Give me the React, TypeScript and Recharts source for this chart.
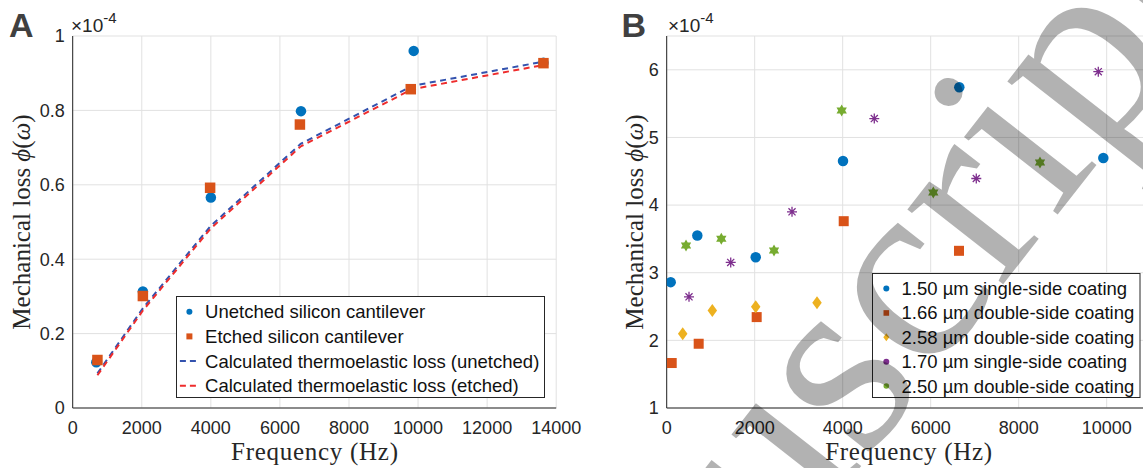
import React from 'react';
import { ComposedChart, Scatter, Line, XAxis, YAxis, CartesianGrid } from 'recharts';

const COLORS = {
  blue: '#0072BD',
  red: '#D95319',
  yellow: '#EDB120',
  purple: '#7E2F8E',
  green: '#77AC30',
  calcBlue: '#3352AE',
  calcRed: '#EE2C2C',
  axis: '#262626',
  grid: '#e1e1e1',
};

// Panel A: silicon cantilevers (loss in units of 1e-4)
const freqUnetched = [684, 2032, 4000, 6610, 9874, 13630];
const lossUnetched = [0.123, 0.313, 0.566, 0.798, 0.96, 0.928];
const freqEtched = [716, 2032, 3979, 6579, 9789, 13631];
const lossEtched = [0.129, 0.301, 0.592, 0.762, 0.857, 0.927];
const freqCalc = [716, 2032, 3990, 6600, 9830, 13630];
const calcUnetched = [0.093, 0.268, 0.489, 0.71, 0.866, 0.931];
const calcEtched = [0.088, 0.262, 0.482, 0.703, 0.857, 0.922];
const ticksAX = [0, 2000, 4000, 6000, 8000, 10000, 12000, 14000];
const ticksAY = [0, 0.2, 0.4, 0.6, 0.8, 1];

// Panel B: coated cantilevers (loss in units of 1e-4)
const freq150 = [91, 696, 2023, 4007, 6650, 9923];
const loss150 = [2.861, 3.551, 3.23, 4.653, 5.742, 4.697];
const freq166 = [114, 727, 2045, 4023, 6643];
const loss166 = [1.665, 1.95, 2.344, 3.762, 3.324];
const freq258 = [364, 1037, 2023, 3416];
const loss258 = [2.098, 2.443, 2.496, 2.555];
const freq170 = [507, 1455, 2848, 4718, 7036, 9809];
const loss170 = [2.644, 3.152, 3.9, 5.279, 4.393, 5.973];
const freq250 = [439, 1241, 2439, 3977, 6059, 8484];
const loss250 = [3.403, 3.501, 3.329, 5.397, 4.186, 4.629];
const ticksBX = [0, 2000, 4000, 6000, 8000, 10000];
const ticksBY = [1, 2, 3, 4, 5, 6];

const legendA = [
  'Unetched silicon cantilever',
  'Etched silicon cantilever',
  'Calculated thermoelastic loss (unetched)',
  'Calculated thermoelastic loss (etched)',
];
const legendB = [
  '1.50 µm single-side coating',
  '1.66 µm double-side coating',
  '2.58 µm double-side coating',
  '1.70 µm single-side coating',
  '2.50 µm double-side coating',
];

const pts = (xs: number[], ys: number[]) => xs.map((x, i) => ({ x, y: ys[i] }));

// marker shapes
const dot = (d: number, color: string) => (p: any) => <circle cx={p.cx} cy={p.cy} r={d / 2} fill={color} />;
const square = (s: number, color: string) => (p: any) => (
  <rect x={p.cx - s / 2} y={p.cy - s / 2} width={s} height={s} fill={color} />
);
const diamond = (w: number, h: number, color: string) => (p: any) => (
  <polygon
    points={`${p.cx},${p.cy - h / 2} ${p.cx + w / 2},${p.cy} ${p.cx},${p.cy + h / 2} ${p.cx - w / 2},${p.cy}`}
    fill={color}
  />
);
const asterisk = (s: number, color: string, sw = 1.3) => (p: any) => {
  const r = s / 2;
  const k = r * 0.7071;
  const { cx, cy } = p;
  return (
    <path
      d={`M${cx - r},${cy}h${2 * r}M${cx},${cy - r}v${2 * r}M${cx - k},${cy - k}l${2 * k},${2 * k}M${cx - k},${cy + k}l${2 * k},${-2 * k}`}
      stroke={color}
      strokeWidth={sw}
      fill="none"
    />
  );
};
const hexagram = (r: number, color: string) => (p: any) => {
  const out: string[] = [];
  for (let i = 0; i < 12; i++) {
    const a = -Math.PI / 2 + (i * Math.PI) / 6;
    const rr = i % 2 === 0 ? r : r * 0.577;
    out.push(`${p.cx + rr * Math.cos(a)},${p.cy + rr * Math.sin(a)}`);
  }
  return <polygon points={out.join(' ')} fill={color} />;
};

const serif = "'Liberation Serif', 'Times New Roman', serif";
const sans = "'Liberation Sans', Arial, sans-serif";
const tickStyle = { fill: COLORS.axis, fontSize: 18, fontFamily: sans };
const inTick = { stroke: COLORS.axis };

// MATLAB-style box: inward ticks on all four sides
const boxAxes = (xDomain: number[], xTicks: number[], yDomain: number[], yTicks: number[]) => [
  <XAxis key="bt" xAxisId="bt" orientation="bottom" type="number" domain={xDomain} ticks={xTicks} height={0} mirror tick={false} tickLine={inTick} tickSize={4} axisLine={false} allowDataOverflow />,
  <XAxis key="top" xAxisId="top" orientation="top" type="number" domain={xDomain} ticks={xTicks} height={0} mirror tick={false} tickLine={inTick} tickSize={4} axisLine={{ stroke: COLORS.axis }} allowDataOverflow />,
  <YAxis key="lf" yAxisId="lf" orientation="left" type="number" domain={yDomain} ticks={yTicks} width={0} mirror tick={false} tickLine={inTick} tickSize={4} axisLine={false} allowDataOverflow />,
  <YAxis key="right" yAxisId="right" orientation="right" type="number" domain={yDomain} ticks={yTicks} width={0} mirror tick={false} tickLine={inTick} tickSize={4} axisLine={{ stroke: COLORS.axis }} allowDataOverflow />,
];

const PanelA = () => (
  <ComposedChart
    width={600}
    height={468}
    margin={{ top: 36, right: 43.8, bottom: 30, left: 12.7 }}
    style={{ position: 'absolute', left: 0, top: 0 }}
  >
    <CartesianGrid stroke={COLORS.grid} />
    {boxAxes([0, 14000], ticksAX, [0, 1], ticksAY)}
    <XAxis
      dataKey="x"
      type="number"
      domain={[0, 14000]}
      ticks={ticksAX}
      height={30}
      tickLine={false}
      tickMargin={7}
      tick={tickStyle}
      axisLine={{ stroke: COLORS.axis }}
      allowDataOverflow
    />
    <YAxis
      dataKey="y"
      type="number"
      domain={[0, 1]}
      ticks={ticksAY}
      width={60}
      tickLine={false}
      tick={tickStyle}
      axisLine={{ stroke: COLORS.axis }}
      allowDataOverflow
    />
    <Scatter data={pts(freqUnetched, lossUnetched)} dataKey="y" shape={dot(10.5, COLORS.blue)} isAnimationActive={false} />
    <Scatter data={pts(freqEtched, lossEtched)} dataKey="y" shape={square(10.5, COLORS.red)} isAnimationActive={false} />
    <Line data={pts(freqCalc, calcUnetched)} dataKey="y" type="linear" stroke={COLORS.calcBlue} strokeWidth={2} strokeDasharray="6 4.5" dot={false} isAnimationActive={false} />
    <Line data={pts(freqCalc, calcEtched)} dataKey="y" type="linear" stroke={COLORS.calcRed} strokeWidth={2} strokeDasharray="6 4.5" dot={false} isAnimationActive={false} />
  </ComposedChart>
);

const PanelB = () => (
  <ComposedChart
    width={600}
    height={468}
    margin={{ top: 36, right: 49.3, bottom: 30, left: 6.7 }}
    style={{ position: 'absolute', left: 600, top: 0 }}
  >
    <CartesianGrid stroke={COLORS.grid} />
    {boxAxes([0, 11000], ticksBX, [1, 6.5], ticksBY)}
    <XAxis
      dataKey="x"
      type="number"
      domain={[0, 11000]}
      ticks={ticksBX}
      height={30}
      tickLine={false}
      tickMargin={7}
      tick={tickStyle}
      axisLine={{ stroke: COLORS.axis }}
      allowDataOverflow
    />
    <YAxis
      dataKey="y"
      type="number"
      domain={[1, 6.5]}
      ticks={ticksBY}
      width={60}
      tickLine={false}
      tick={tickStyle}
      axisLine={{ stroke: COLORS.axis }}
      allowDataOverflow
    />
    <Scatter data={pts(freq150, loss150)} dataKey="y" shape={dot(10.5, COLORS.blue)} isAnimationActive={false} />
    <Scatter data={pts(freq166, loss166)} dataKey="y" shape={square(10, COLORS.red)} isAnimationActive={false} />
    <Scatter data={pts(freq258, loss258)} dataKey="y" shape={diamond(9.5, 13, COLORS.yellow)} isAnimationActive={false} />
    <Scatter data={pts(freq170, loss170)} dataKey="y" shape={asterisk(10, COLORS.purple)} isAnimationActive={false} />
    <Scatter data={pts(freq250, loss250)} dataKey="y" shape={hexagram(6, COLORS.green)} isAnimationActive={false} />
  </ComposedChart>
);

const LegendBox = ({
  left, top, width, height, labels, markers, rowTop, rowGap, markerX, textX,
}: any) => (
  <svg width={width} height={height} style={{ position: 'absolute', left, top, overflow: 'visible' }}>
    <rect x={0.5} y={0.5} width={width - 1} height={height - 1} fill="#fff" stroke={COLORS.axis} strokeWidth={1} />
    {labels.map((label: string, i: number) => {
      const cy = rowTop + i * rowGap;
      return (
        <g key={label}>
          {markers[i](markerX, cy)}
          <text x={textX} y={cy + 6.5} fontSize={18.5} fontFamily={sans} fill="#111">
            {label}
          </text>
        </g>
      );
    })}
  </svg>
);

const legendMarkersA = [
  (x: number, y: number) => <circle cx={x} cy={y} r={3} fill={COLORS.blue} />,
  (x: number, y: number) => <rect x={x - 3} y={y - 3} width={6} height={6} fill={COLORS.red} />,
  (x: number, y: number) => <line x1={x - 9.5} x2={x + 6.5} y1={y} y2={y} stroke={COLORS.calcBlue} strokeWidth={2} strokeDasharray="6 4" />,
  (x: number, y: number) => <line x1={x - 9.5} x2={x + 6.5} y1={y} y2={y} stroke={COLORS.calcRed} strokeWidth={2} strokeDasharray="6 4" />,
];
const legendMarkersB = [
  (x: number, y: number) => <circle cx={x} cy={y} r={3} fill={COLORS.blue} />,
  (x: number, y: number) => <rect x={x - 2.8} y={y - 2.8} width={5.6} height={5.6} fill={COLORS.red} />,
  (x: number, y: number) => <polygon points={`${x},${y - 4} ${x + 3},${y} ${x},${y + 4} ${x - 3},${y}`} fill={COLORS.yellow} />,
  (x: number, y: number) => <circle cx={x} cy={y} r={3} fill={COLORS.purple} />,
  (x: number, y: number) => <circle cx={x} cy={y} r={2.8} fill={COLORS.green} />,
];

const YLabel = ({ x, y }: { x: number; y: number }) => (
  <text transform={`translate(${x},${y}) rotate(-90)`} textAnchor="middle" fontSize={25} fontFamily={serif} fill={COLORS.axis}>
    Mechanical loss <tspan fontStyle="italic">ϕ</tspan>(<tspan fontStyle="italic">ω</tspan>)
  </text>
);

const XLabel = ({ x }: { x: number }) => (
  <text x={x} y={460} textAnchor="middle" fontSize={25} fontFamily={serif} fill={COLORS.axis} textLength={167} lengthAdjust="spacing">
    Frequency (Hz)
  </text>
);

const Exponent = ({ x }: { x: number }) => (
  <text x={x} y={32} fontSize={19} fontFamily={sans} fill={COLORS.axis}>
    ×10<tspan fontSize={15} dy={-9}>-4</tspan>
  </text>
);

const App = () => (
  <div style={{ position: 'fixed', left: 0, top: 0, width: 1143, height: 468, overflow: 'hidden', background: '#fff' }}>
    <PanelA />
    <PanelB />
    <LegendBox
      left={176.3}
      top={296}
      width={369}
      height={102}
      labels={legendA}
      markers={legendMarkersA}
      rowTop={15.7}
      rowGap={24.7}
      markerX={13.4}
      textX={29.1}
    />
    <LegendBox
      left={872.2}
      top={272.7}
      width={268.5}
      height={125}
      labels={legendB}
      markers={legendMarkersB}
      rowTop={15.6}
      rowGap={24.35}
      markerX={14.3}
      textX={29.5}
    />
    <svg width={1143} height={468} style={{ position: 'absolute', left: 0, top: 0, pointerEvents: 'none' }}>
      <text x={9} y={37} fontSize={34} fontWeight="bold" fontFamily={sans} fill="#404040">A</text>
      <text x={621.5} y={37} fontSize={34} fontWeight="bold" fontFamily={sans} fill="#404040">B</text>
      <Exponent x={71} />
      <Exponent x={668} />
      <YLabel x={30} y={222} />
      <YLabel x={643} y={222} />
      <XLabel x={314.5} />
      <XLabel x={908.7} />
      <text
        x={483.4}
        y={949.6}
        transform="rotate(-52 483.4 949.6)"
        fontSize={265}
        fontFamily={serif}
        fill="#000"
        fillOpacity={0.3}
      >
        Manuscript
      </text>
    </svg>
  </div>
);

export default App;
